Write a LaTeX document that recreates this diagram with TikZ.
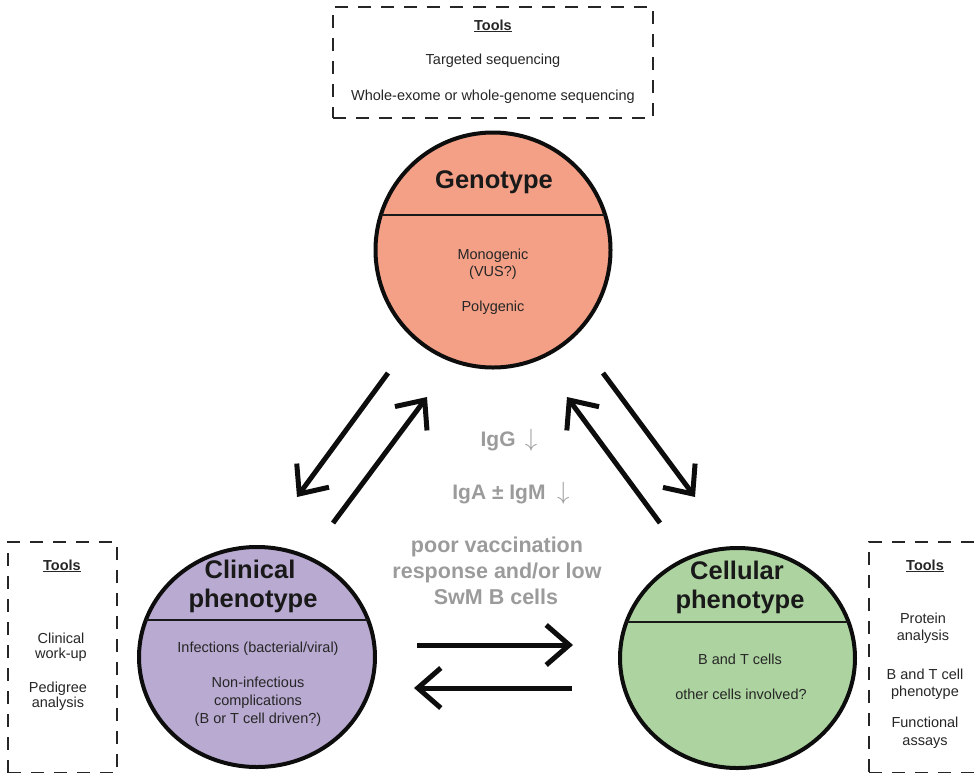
\documentclass[tikz,border=0pt]{standalone}
\usepackage{fontspec}
\setmainfont{Liberation Sans}
\usetikzlibrary{arrows.meta,shapes.geometric}
\definecolor{genofill}{RGB}{244,160,135}
\definecolor{clinfill}{RGB}{185,170,209}
\definecolor{cellfill}{RGB}{173,212,160}
\definecolor{graytxt}{RGB}{155,155,155}
\newcommand{\igdown}{{\fontsize{25}{25}\selectfont$\downarrow$}}
\begin{document}
\begin{tikzpicture}[x=1pt,y=-1pt,
  bubble/.style={ellipse, draw=black!95, line width=4pt, inner sep=0pt},
  divider/.style={line width=1.8pt, draw=black!90},
  title/.style={font=\fontsize{25.5}{28}\selectfont\bfseries, text=black!90, inner sep=0pt, anchor=base},
  body/.style={font=\fontsize{14.5}{17}\selectfont, inner sep=0pt, anchor=base, text=black!85},
  toolbox/.style={draw=black!85, line width=2pt, dash pattern=on 13pt off 10pt, inner sep=0pt},
  igtext/.style={font=\fontsize{21}{24}\selectfont\bfseries, text=graytxt, inner sep=0pt, anchor=base},
  vactext/.style={font=\fontsize{21.5}{24}\selectfont\bfseries, text=graytxt, inner sep=0pt, anchor=base},
  flow/.style={line width=5pt, draw=black!95, -{Straight Barb[length=23pt,width=40pt]}}
]
\useasboundingbox (0,0) rectangle (977,772);
\clip (0,0) rectangle (977,772);

% tool boxes
\node[toolbox, minimum width=320pt, minimum height=111pt] (toptools) at (493,62.5) {};
\node[toolbox, minimum width=109pt, minimum height=231pt] (lefttools) at (62.5,657.5) {};
\node[toolbox, minimum width=121pt, minimum height=231pt] (righttools) at (929.5,657.5) {};

\node[body, font=\fontsize{14.5}{17}\selectfont\bfseries] (tt0) at (493,30) {\underline{Tools}};
\node[body] (tt1) at (493,64) {Targeted sequencing};
\node[body] (tt2) at (493,100) {Whole-exome or whole-genome sequencing};

\node[body, font=\fontsize{14.5}{17}\selectfont\bfseries] (lt0) at (62,570) {\underline{Tools}};
\node[body] (lt1) at (61,643) {Clinical};
\node[body] (lt2) at (61,658) {work-up};
\node[body] (lt3) at (58,692) {Pedigree};
\node[body] (lt4) at (58,707) {analysis};

\node[body, font=\fontsize{14.5}{17}\selectfont\bfseries] (rt0) at (925,570) {\underline{Tools}};
\node[body] (rt1) at (923,623) {Protein};
\node[body] (rt2) at (923,640) {analysis};
\node[body] (rt3) at (925,679) {B and T cell};
\node[body] (rt4) at (925,696) {phenotype};
\node[body] (rt5) at (925,727) {Functional};
\node[body] (rt6) at (925,745) {assays};

% bubbles
\node[bubble, fill=genofill, minimum width=235pt, minimum height=235pt] (geno) at (493,250) {};
\node[bubble, fill=clinfill, minimum width=236pt, minimum height=220pt] (clin) at (257,657) {};
\node[bubble, fill=cellfill, minimum width=235pt, minimum height=220pt] (cell) at (737.5,658) {};

\begin{scope}
  \clip (493,250) ellipse [x radius=117.5, y radius=117.5];
  \draw[divider] (350,215) -- (640,215);
\end{scope}
\begin{scope}
  \clip (257,657) ellipse [x radius=118, y radius=110];
  \draw[divider] (120,620) -- (400,620);
\end{scope}
\begin{scope}
  \clip (737.5,658) ellipse [x radius=117.5, y radius=110];
  \draw[divider] (600,622) -- (880,622);
\end{scope}

\node[title] (gt) at (494,188) {Genotype};
\node[body] (g1) at (493,259) {Monogenic};
\node[body] (g2) at (493,276) {(VUS?)};
\node[body] (g3) at (493,311) {Polygenic};

\node[title] (ct1) at (250,578) {Clinical};
\node[title] (ct2) at (253,607) {phenotype};
\node[body] (c1) at (258,652) {Infections (bacterial/viral)};
\node[body] (c2) at (258,687) {Non-infectious};
\node[body] (c3) at (258,705) {complications};
\node[body] (c4) at (258,723) {(B or T cell driven?)};

\node[title] (et1) at (737,579) {Cellular};
\node[title] (et2) at (740,608) {phenotype};
\node[body] (e1) at (740,664) {B and T cells};
\node[body] (e2) at (741,699) {other cells involved?};

% centre text
\node[igtext] (ig1) at (509,446) {IgG \,\igdown};
\node[igtext] (ig2) at (511,499) {IgA ± IgM \ \igdown};
\node[vactext] (v1) at (497,552) {poor vaccination};
\node[vactext] (v2) at (497,578) {response and/or low};
\node[vactext] (v3) at (496,604) {SwM B cells};

% arrows
\coordinate (a1s) at (388,373); \coordinate (a1e) at (297,497);
\coordinate (a2s) at (333,523); \coordinate (a2e) at (427,397);
\coordinate (a3s) at (660,523); \coordinate (a3e) at (567,397);
\coordinate (a4s) at (603,373); \coordinate (a4e) at (695,497);
\coordinate (h1s) at (417,645); \coordinate (h1e) at (573,645);
\coordinate (h2s) at (572,688); \coordinate (h2e) at (414,688);
\draw[flow] (a1s) -- (a1e);
\draw[flow] (a2s) -- (a2e);
\draw[flow] (a3s) -- (a3e);
\draw[flow] (a4s) -- (a4e);
\draw[flow] (h1s) -- (h1e);
\draw[flow] (h2s) -- (h2e);
\end{tikzpicture}
\end{document}
